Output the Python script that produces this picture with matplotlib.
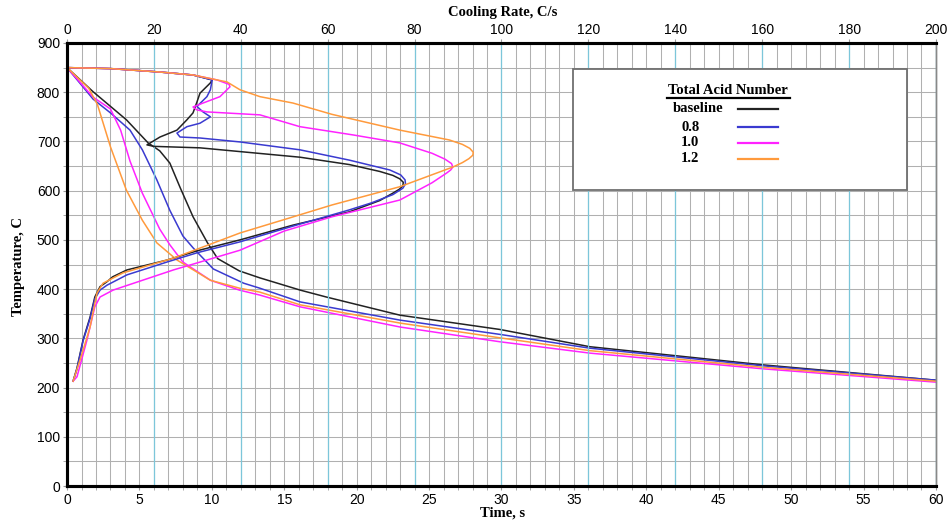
import numpy as np
import matplotlib
matplotlib.use("Agg")
import matplotlib.pyplot as plt
from matplotlib.lines import Line2D

# cooling curves: temperature vs time (s)
base_t = [0, 1.8, 4.1, 5.6, 6.4, 7.1, 7.8, 8.7, 9.7, 10.4, 11.9, 13.3, 16.1, 17.9, 23, 29.9, 36.1, 48.1, 60]
base_T = [850, 801, 744, 697, 681, 656, 607, 547, 494, 462, 437, 423, 398, 384, 347, 318, 283, 246, 215]
tan08_t = [0, 1.8, 3.0, 4.35, 5.2, 6.2, 7.1, 8.0, 8.7, 10.1, 12.2, 13.3, 16.1, 23, 29.9, 36.1, 48.1, 60]
tan08_T = [850, 786, 758, 723, 683, 622, 560, 508, 484, 441, 412, 402, 374, 337, 308, 280, 244, 215]
tan10_t = [0, 1.8, 3.0, 3.7, 4.35, 5.2, 6.4, 7.1, 8.0, 9.9, 11.9, 13.3, 16.1, 23, 29.9, 36.1, 48.1, 60]
tan10_T = [850, 790, 766, 723, 660, 595, 522, 490, 455, 418, 398, 388, 364, 323, 293, 270, 238, 211]
tan12_t = [0, 1.5, 2.1, 3.0, 4.1, 5.2, 6.2, 7.6, 9.9, 11.9, 13.3, 16.1, 23, 29.9, 36.1, 48.1, 60]
tan12_T = [850, 808, 775, 689, 601, 540, 494, 459, 418, 402, 394, 368, 331, 301, 275, 241, 213]

# cooling rate (C/s) vs temperature
base_r = [0, 10, 21.4, 29, 33.4, 33, 30.6, 29.9, 29, 27.6, 25.3, 21.4, 18.4, 20, 30.6, 53.6, 65, 72,
          75, 76.6, 77.4, 77.3, 76.5, 75, 72, 65, 52, 39.8, 30, 23, 13.8, 10.5, 9.2, 7.6, 6.4, 5.3,
          3.7, 2.3, 1.4]
base_rT = [850, 848, 841, 835, 825, 819, 798, 780, 758, 744, 723, 709, 693, 690, 687, 668, 653, 639,
           631, 624, 617, 610, 603, 595, 580, 557, 530, 500, 478, 459, 439, 425, 415, 405, 384, 343,
           297, 240, 213]
tan08_r = [0, 10, 21.4, 29, 33.4, 33, 32.2, 29.9, 31.3, 33, 30.6, 27.6, 25.3, 26, 30.6, 39.8, 53.6, 65,
           74.3, 76.8, 77.8, 77.9, 77.3, 75, 70, 65, 52, 39.8, 30, 23, 13.8, 9.2, 7.6, 6.4, 5.3, 3.7,
           2.3, 1.4]
tan08_rT = [850, 848, 841, 835, 825, 805, 791, 771, 760, 750, 737, 730, 717, 709, 707, 699, 683, 662,
            642, 632, 622, 614, 605, 592, 575, 561, 528, 496, 474, 455, 429, 408, 398, 380, 340, 295,
            238, 213]
tan10_r = [0, 10, 21.4, 29, 34.5, 37.3, 37.5, 35.2, 31.3, 29, 29.9, 32.2, 44.4, 53.6, 66, 76.6, 84,
           87, 88.5, 88.8, 88.3, 87.4, 84, 76.6, 61, 50, 39.8, 24.5, 10.6, 7.6, 6.4, 4.6, 2.3, 1.4]
tan10_rT = [850, 848, 841, 835, 825, 816, 811, 791, 778, 770, 764, 760, 754, 730, 713, 697, 676,
            664, 655, 648, 642, 636, 616, 581, 547, 518, 479, 439, 398, 384, 364, 297, 222, 213]
tan12_r = [0, 10, 21.4, 29, 34.5, 36.8, 39.8, 44.4, 52, 61, 76.6, 88, 91, 92.7, 93.5, 93.4, 92.5,
           91, 88.8, 76.6, 61, 51, 39.8, 24.5, 12.9, 8.3, 6.9, 5.3, 3.0, 1.4]
tan12_rT = [850, 848, 841, 835, 825, 821, 805, 791, 778, 755, 723, 703, 694, 686, 678, 672, 665,
            657, 648, 608, 571, 544, 514, 463, 433, 412, 392, 323, 256, 213]

labels = ["baseline", "0.8", "1.0", "1.2"]
colors = ["#222222", "#3a3ad0", "#ff22ff", "#ff9a3c"]
time_sets = [(base_t, base_T), (tan08_t, tan08_T), (tan10_t, tan10_T), (tan12_t, tan12_T)]
rate_sets = [(base_r, base_rT), (tan08_r, tan08_rT), (tan10_r, tan10_rT), (tan12_r, tan12_rT)]

serif = "Liberation Serif"
sans = "Liberation Sans"

fig = plt.figure(figsize=(9.48, 5.23), dpi=100)
ax = fig.add_axes([0.0707, 0.0707, 0.9166, 0.8471])
ax.set_xlim(0, 60)
ax.set_ylim(0, 900)
ax2 = ax.twiny()
ax2.set_xlim(0, 200)

# gray grid: 1 s verticals, 50 C horizontals
ax.set_xticks(np.arange(0, 61, 5))
ax.set_xticks(np.arange(0, 61, 1), minor=True)
ax.set_yticks(np.arange(0, 901, 100))
ax.set_yticks(np.arange(0, 901, 50), minor=True)
ax.grid(which="both", color="#b0b0b0", lw=0.75)
ax.set_axisbelow(True)

# cyan verticals at every 20 C/s
ax2.set_xticks(np.arange(0, 201, 20))
ax2.grid(axis="x", color="#7cc6da", lw=0.9)

for (t, T), c in zip(time_sets, colors):
    ax.plot(t, T, color=c, lw=1.1)
for (r, T), c in zip(rate_sets, colors):
    ax2.plot(r, T, color=c, lw=1.1)

for a in (ax, ax2):
    a.tick_params(which="both", length=3, color="#999999", labelsize=10)
    for lab in a.get_xticklabels() + a.get_yticklabels():
        lab.set_fontfamily(sans)
ax2.tick_params(pad=1)
ax.tick_params(axis="x", pad=2)
ax.tick_params(axis="y", pad=2)

for a in (ax, ax2):
    a.spines["left"].set_linewidth(2.2)
    a.spines["bottom"].set_linewidth(2.2)
    a.spines["top"].set_linewidth(2.2)
    a.spines["right"].set_color("#888888")
    a.spines["right"].set_linewidth(1.0)

fig.text(0.53, 0.019, "Time, s", ha="center", va="center", family=serif,
         weight="bold", fontsize=10.5)
fig.text(0.53, 0.977, "Cooling Rate, C/s", ha="center", va="center", family=serif,
         weight="bold", fontsize=10.5)
fig.text(0.019, 0.49, "Temperature, C", ha="center", va="center", rotation=90,
         family=serif, weight="bold", fontsize=10.5)

# legend box
lx0, lx1 = 573 / 948, 907 / 948
ly0, ly1 = 1 - 190 / 523, 1 - 69 / 523
box = plt.Rectangle((lx0, ly0), lx1 - lx0, ly1 - ly0, transform=fig.transFigure,
                    facecolor="white", edgecolor="#707070", lw=1.3, zorder=5)
fig.add_artist(box)
fig.text(728 / 948, 1 - 91 / 523, "Total Acid Number", ha="center", va="center",
         family=serif, weight="bold", fontsize=10.5, zorder=6)
fig.add_artist(Line2D([667 / 948, 790 / 948], [1 - 98 / 523] * 2, transform=fig.transFigure,
                      color="black", lw=1.6, zorder=6))
rows_y = [109, 127, 143, 159]
text_x = [673, 681, 681, 681]
for lab, c, yy, xx in zip(labels, colors, rows_y, text_x):
    fig.text(xx / 948, 1 - yy / 523, lab, ha="left", va="center", family=serif,
             weight="bold", fontsize=10.5, zorder=6)
    fig.add_artist(Line2D([738 / 948, 778 / 948], [1 - yy / 523] * 2, transform=fig.transFigure,
                          color=c, lw=1.6, zorder=6))

fig.savefig("out.png", dpi=100)
